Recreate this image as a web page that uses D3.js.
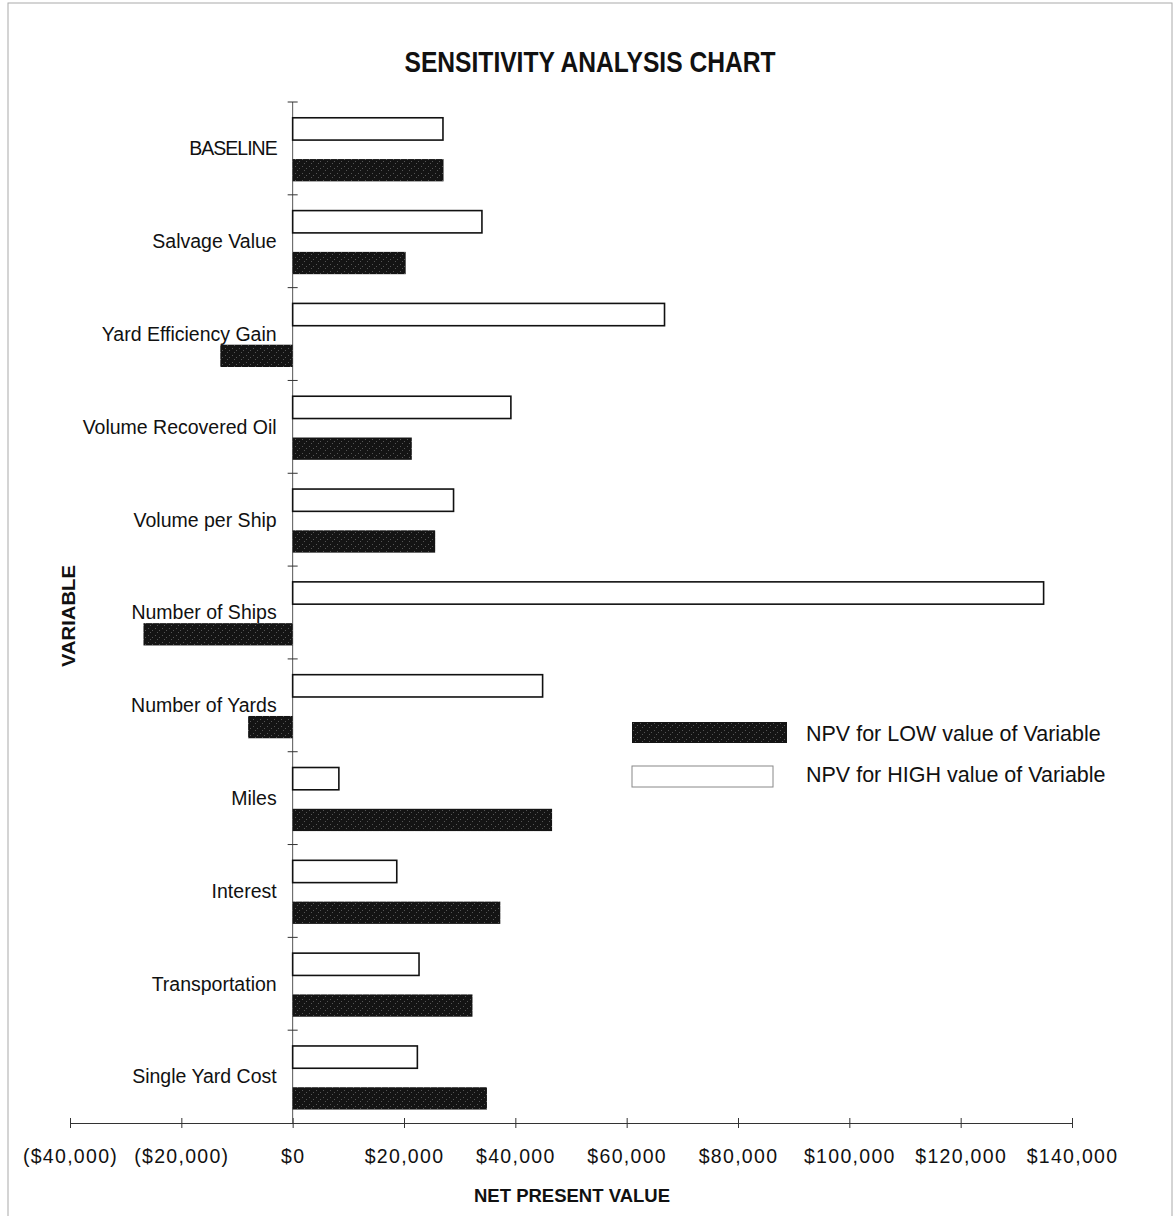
<!DOCTYPE html>
<html>
<head>
<meta charset="utf-8">
<script src="https://cdn.jsdelivr.net/npm/d3@7"></script>
<style>
  body { margin: 0; background: #fff; }
  text { font-family: "Liberation Sans", Arial, sans-serif; fill: #111; }
</style>
</head>
<body>
<div id="chart"></div>
<script>
//Chart Data (in dollars)
let variables = ["BASELINE", "Salvage Value", "Yard Efficiency Gain", "Volume Recovered Oil",
  "Volume per Ship", "Number of Ships", "Number of Yards", "Miles", "Interest",
  "Transportation", "Single Yard Cost"];
let npvHigh = [27000, 34000, 66800, 39200, 28900, 134900, 44900, 8300, 18700, 22700, 22400];
let npvLow = [27100, 20300, -13000, 21400, 25600, -26800, -8000, 46600, 37300, 32300, 34900];
let xTicks = [-40000, -20000, 0, 20000, 40000, 60000, 80000, 100000, 120000, 140000];
let seriesNames = ["NPV for LOW value of Variable", "NPV for HIGH value of Variable"];

//SVG Size and Margins of the Plot Area
let svgWidth = 1174;
let svgHeight = 1216;
let margin = { top: 102, left: 70, right: 102, bottom: 93 };
let width = svgWidth - margin.left - margin.right;
let height = svgHeight - margin.top - margin.bottom;

let svg = d3.select("#chart")
  .append("svg")
  .attr("width", svgWidth)
  .attr("height", svgHeight);

//Stippled dark fill for the LOW bars
let defs = svg.append("defs");
let pat = defs.append("pattern")
  .attr("id", "stipple")
  .attr("patternUnits", "userSpaceOnUse")
  .attr("width", 7).attr("height", 7);
pat.append("rect").attr("width", 7).attr("height", 7).attr("fill", "#141414");
[[1, 1], [5, 3], [3, 5]].forEach(p => {
  pat.append("rect").attr("x", p[0]).attr("y", p[1]).attr("width", 1).attr("height", 1).attr("fill", "#555");
});

//Page Frame
svg.append("rect")
  .attr("x", 8).attr("y", 3)
  .attr("width", 1164).attr("height", 1220)
  .attr("fill", "none")
  .attr("stroke", "#aaa")
  .attr("stroke-width", 1);

let chartGroup = svg.append("g")
  .attr("transform", `translate(${margin.left}, ${margin.top})`);

//Scales
let xScale = d3.scaleLinear()
  .domain([-40000, 140000])
  .range([0, width]);
let yScale = d3.scaleBand()
  .domain(variables)
  .range([0, height]);
let bw = yScale.bandwidth();
let inner = d3.scaleBand()
  .domain(["high", "low"])
  .range([0.17 * bw, 0.855 * bw])
  .paddingInner(0.46);

//Bottom Axis
let bottomAxis = d3.axisBottom(xScale)
  .tickValues(xTicks)
  .tickSize(0)
  .tickPadding(26)
  .tickFormat(d => d < 0 ? `($${d3.format(",")(-d)})` : `$${d3.format(",")(d)}`);
let xAxisG = chartGroup.append("g")
  .attr("transform", `translate(0, ${height})`)
  .call(bottomAxis);
xAxisG.select(".domain").attr("stroke", "#333").attr("stroke-width", 1);
xAxisG.selectAll(".tick").append("line")
  .attr("y1", -5).attr("y2", 5)
  .attr("stroke", "#333");
xAxisG.selectAll("text")
  .style("font-size", "19.5px")
  .style("letter-spacing", "1.3px")
  .attr("fill", "#111");

//Vertical Zero Axis with Cross Ticks at Band Edges
let x0 = xScale(0);
chartGroup.append("line")
  .attr("x1", x0).attr("x2", x0)
  .attr("y1", 0).attr("y2", height)
  .attr("stroke", "#555").attr("stroke-width", 1);
chartGroup.selectAll(".ytick")
  .data(variables)
  .enter()
  .append("line")
  .attr("class", "ytick")
  .attr("x1", x0 - 5).attr("x2", x0 + 5)
  .attr("y1", d => yScale(d)).attr("y2", d => yScale(d))
  .attr("stroke", "#333");

//Bars for HIGH Values
chartGroup.selectAll(".barHigh")
  .data(variables)
  .enter()
  .append("rect")
  .attr("class", "barHigh")
  .attr("x", (d, i) => xScale(Math.min(0, npvHigh[i])))
  .attr("y", d => yScale(d) + inner("high"))
  .attr("width", (d, i) => Math.abs(xScale(npvHigh[i]) - x0))
  .attr("height", inner.bandwidth())
  .attr("fill", "#fff")
  .attr("stroke", "#111")
  .attr("stroke-width", 1.6);

//Bars for LOW Values
chartGroup.selectAll(".barLow")
  .data(variables)
  .enter()
  .append("rect")
  .attr("class", "barLow")
  .attr("x", (d, i) => xScale(Math.min(0, npvLow[i])))
  .attr("y", d => yScale(d) + inner("low"))
  .attr("width", (d, i) => Math.abs(xScale(npvLow[i]) - x0))
  .attr("height", inner.bandwidth())
  .attr("fill", "url(#stipple)");

//Category Labels
chartGroup.selectAll(".catLabel")
  .data(variables)
  .enter()
  .append("text")
  .attr("class", "catLabel")
  .attr("x", x0 - 16)
  .attr("y", d => yScale(d) + bw / 2)
  .attr("dy", "0.35em")
  .style("text-anchor", "end")
  .style("font-size", "19.5px")
  .style("letter-spacing", d => d === "BASELINE" ? "-1px" : "0px")
  .text(d => d);

//Legend
let legend = svg.append("g")
  .attr("transform", "translate(632, 722)");
legend.append("rect")
  .attr("x", 0).attr("y", 0)
  .attr("width", 155).attr("height", 21)
  .attr("fill", "url(#stipple)");
legend.append("rect")
  .attr("x", 0).attr("y", 44)
  .attr("width", 141).attr("height", 21)
  .attr("fill", "#fff")
  .attr("stroke", "#888")
  .attr("stroke-width", 1);
legend.selectAll(".legText")
  .data(seriesNames)
  .enter()
  .append("text")
  .attr("class", "legText")
  .attr("x", 174)
  .attr("y", (d, i) => 11 + i * 41)
  .attr("dy", "0.35em")
  .style("font-size", "21.5px")
  .text(d => d);

//Title and Axis Titles
svg.append("text")
  .attr("x", 590)
  .attr("y", 72)
  .attr("textLength", 371)
  .attr("lengthAdjust", "spacingAndGlyphs")
  .style("text-anchor", "middle")
  .style("font-weight", "bold")
  .style("font-size", "30px")
  .text("SENSITIVITY ANALYSIS CHART");

svg.append("text")
  .attr("transform", "rotate(-90)")
  .attr("x", -616)
  .attr("y", 75)
  .attr("textLength", 102)
  .attr("lengthAdjust", "spacingAndGlyphs")
  .style("text-anchor", "middle")
  .style("font-weight", "bold")
  .style("font-size", "19px")
  .text("VARIABLE");

svg.append("text")
  .attr("x", 572)
  .attr("y", 1202)
  .attr("textLength", 196)
  .attr("lengthAdjust", "spacingAndGlyphs")
  .style("text-anchor", "middle")
  .style("font-weight", "bold")
  .style("font-size", "19px")
  .text("NET PRESENT VALUE");
</script>
</body>
</html>
